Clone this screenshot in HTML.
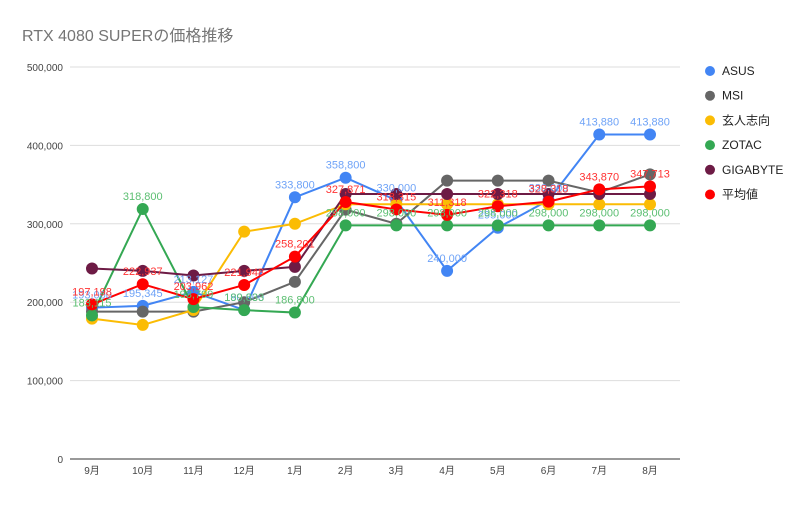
<!DOCTYPE html>
<html><head><meta charset="utf-8"><style>
body{margin:0;background:#fff;font-family:"Liberation Sans","Noto Sans CJK JP",sans-serif}
</style></head><body>
<svg width="812" height="502" xmlns="http://www.w3.org/2000/svg" font-family="Liberation Sans, Noto Sans CJK JP, sans-serif">
<text x="22" y="41" font-size="16" fill="#757575">RTX 4080 SUPERの価格推移</text>
<g id="grid"></g><g id="series"></g><g id="legend"></g>
</svg>
<script>
const categories=["9月","10月","11月","12月","1月","2月","3月","4月","5月","6月","7月","8月"];
const yTicks=[0,100000,200000,300000,400000,500000];
const seriesNames=["ASUS","MSI","玄人志向","ZOTAC","GIGABYTE","平均値"];
const asus=[193000,195345,213127,190000,333800,358800,330000,240000,295000,330000,413880,413880];
const msi=[188000,188000,188000,200000,226000,318000,300000,355000,355000,355000,340000,363000];
const kuroshikou=[179000,171000,190000,290000,300000,325000,325000,325000,325000,325000,325000,325000];
const zotac=[183115,318800,193799,189833,186800,298000,298000,298000,298000,298000,298000,298000];
const gigabyte=[243000,240000,234000,240000,245000,338000,338000,338000,338000,338000,338000,338000];
const average=[197198,222937,203962,221948,258201,327871,318315,311318,322318,328318,343870,347713];
const colors=["#4285f4","#666666","#fbbc04","#34a853","#6d1b45","#ff0000"];
const labelColors=["#6fa3f7",null,null,"#5cbf72",null,"#ff3333"];
const ns="http://www.w3.org/2000/svg";
const X=i=>92+i*(650-92)/(categories.length-1);
const Y=v=>459-v*(459-67)/500000;
function mk(t,a,p){const e=document.createElementNS(ns,t);for(const k in a)e.setAttribute(k,a[k]);p.appendChild(e);return e;}
const g=document.getElementById('grid');
yTicks.forEach(t=>{
 const l=mk('line',{x1:70,x2:680,y1:Y(t),y2:Y(t),stroke:t===0?'#333':'#ddd'},g);
 
 
 const tx=mk('text',{x:63,y:Y(t)+4,'font-size':10,'text-anchor':'end',fill:'#444'},g);
 tx.textContent=t.toLocaleString('en-US');
 
 
});
categories.forEach((c,i)=>{
 const tx=mk('text',{x:X(i),y:474,'font-size':10,'text-anchor':'middle',fill:'#444'},g);
 tx.textContent=c;
 
 
});
const data=[asus,msi,kuroshikou,zotac,gigabyte,average];
const s=document.getElementById('series');
data.forEach((d,k)=>{
 const grp=mk('g',{},s);
 
 
 const pl=mk('polyline',{points:d.map((v,i)=>X(i)+','+Y(v)).join(' '),fill:'none',stroke:colors[k],'stroke-width':2},grp);
 
 
 d.forEach((v,i)=>{
  const c=mk('circle',{cx:X(i),cy:Y(v),r:6,fill:colors[k]},grp);
  
  
 });
});
data.forEach((d,k)=>{
 if(!labelColors[k])return;
 d.forEach((v,i)=>{
  const t=mk('text',{x:X(i),y:Y(v)-9,'font-size':11,'text-anchor':'middle',fill:labelColors[k]},s);
  t.textContent=v.toLocaleString('en-US');
  
  
 });
});
const lg=document.getElementById('legend');
seriesNames.forEach((n,k)=>{
 const y=71+k*24.7;
 const e=mk('g',{},lg);
 
 
 mk('circle',{cx:710,cy:y,r:5,fill:colors[k]},e);
 const t=mk('text',{x:722,y:y+4,'font-size':12,fill:'#222'},e);
 t.textContent=n;
});
</script>
</body></html>
